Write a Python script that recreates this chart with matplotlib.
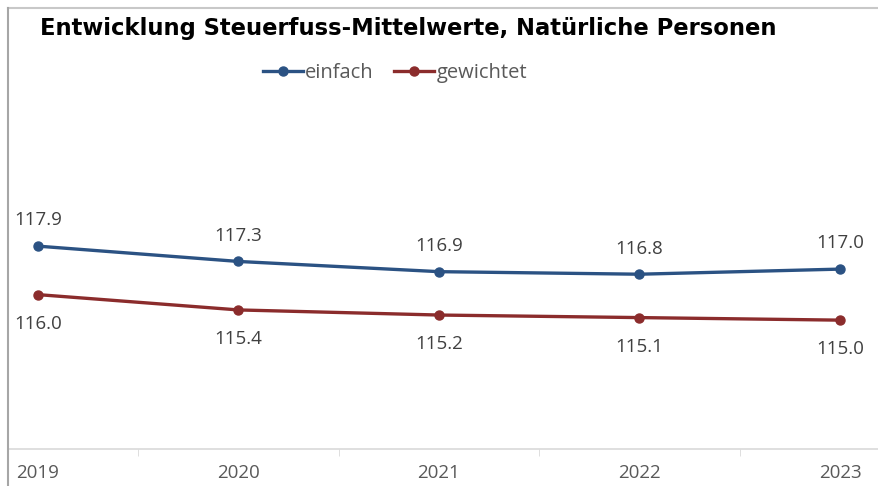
import matplotlib.pyplot as plt
from matplotlib.lines import Line2D

years = ["2019", "2020", "2021", "2022", "2023"]
einfach = [117.9, 117.3, 116.9, 116.8, 117.0]
gewichtet = [116.0, 115.4, 115.2, 115.1, 115.0]

plt.rcParams['font.family'] = ['Open Sans', 'DejaVu Sans']

W, H = 879, 486
fig = plt.figure(figsize=(W / 100, H / 100), dpi=100)

# axes placed in pixel terms
ax = fig.add_axes([8 / W, 1 - 449 / H, 1 - 8 / W, (449 - 100) / H])
x = list(range(len(years)))

blue = "#2B5283"
red = "#8B2C2C"
ax.plot(x, einfach, color=blue, lw=2.4, marker="o", ms=6.5, label="einfach")
ax.plot(x, gewichtet, color=red, lw=2.4, marker="o", ms=6.5, label="gewichtet")

for xi, v in zip(x, einfach):
    ax.annotate(f"{v:.1f}", (xi, v), xytext=(0, 18.5), textcoords="offset points",
                ha="center", va="center", fontsize=13.5, color="#404040")
for xi, v in zip(x, gewichtet):
    ax.annotate(f"{v:.1f}", (xi, v), xytext=(0, -21), textcoords="offset points",
                ha="center", va="center", fontsize=13.5, color="#404040")

ax.set_xlim((8 - 38) / 200.5, (879 - 38) / 200.5)
ax.set_ylim(109.95, 115 + (320 - 100) / 25.5)

ax.set_yticks([])
ax.set_xticks(x)
ax.set_xticklabels(years, fontsize=13.5, color="#595959")
ax.set_xticks([i + 0.5 for i in range(4)], minor=True)
ax.tick_params(axis="x", which="major", length=0, pad=10.5)
ax.tick_params(axis="x", which="minor", length=5, color="#d9d9d9", direction="out")
for s in ["top", "right", "left"]:
    ax.spines[s].set_visible(False)
ax.spines["bottom"].set_color("#d9d9d9")
ax.spines["bottom"].set_linewidth(1.2)

# outer frame (cropped chart border)
fig.add_artist(Line2D([8 / W, 1], [1 - 8 / H, 1 - 8 / H], color="#c8c8c8", lw=1.5))
fig.add_artist(Line2D([8 / W, 8 / W], [0, 1 - 8 / H], color="#a6a6a6", lw=1.5))

fig.text(40 / W, 1 - 29 / H, "Entwicklung Steuerfuss-Mittelwerte, Natürliche Personen",
         fontsize=16.3, fontweight="bold", color="black", ha="left", va="center",
         family="DejaVu Sans")

leg = fig.legend(loc="center", bbox_to_anchor=(395 / W, 1 - 73 / H), ncol=2,
                 frameon=False, fontsize=14.5, handlelength=2.0, handletextpad=0.1,
                 columnspacing=1.0)
for t in leg.get_texts():
    t.set_color("#595959")

fig.savefig("out.png", dpi=100)
